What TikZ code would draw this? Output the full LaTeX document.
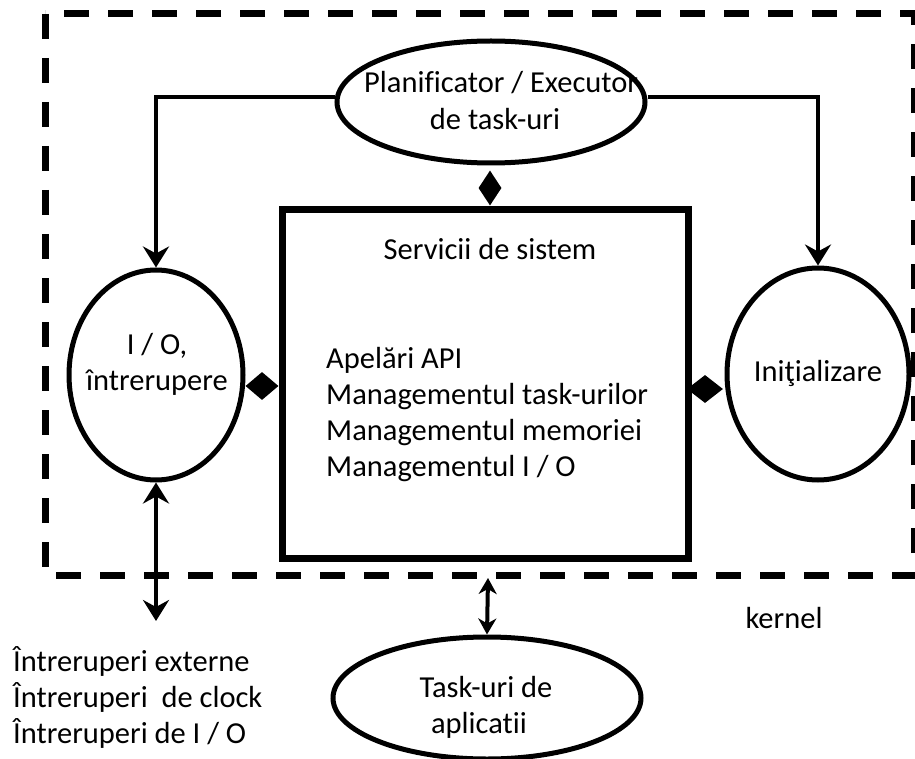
\documentclass[tikz,border=0pt]{standalone}
\usepackage{fontspec}
\setmainfont{Carlito}[Ligatures=NoCommon]
\usetikzlibrary{shapes.geometric,arrows.meta}
\begin{document}
\begin{tikzpicture}[x=1pt,y=-1pt,
  txt/.style={font=\fontsize{30.5}{36}\selectfont, inner sep=0pt},
  ell/.style={draw, ellipse, line width=5pt, inner sep=0pt},
  dia/.style={diamond, fill=black, inner sep=0pt},
  arr/.style={line width=4.5pt, -{Stealth[length=21pt,width=26pt,inset=7pt]}},
  dblarr/.style={line width=4.5pt, {Stealth[length=21pt,width=26pt,inset=7pt]}-{Stealth[length=21pt,width=26pt,inset=7pt]}},
  smalldbl/.style={line width=4pt, {Stealth[length=16pt,width=18pt,inset=5pt]}-{Stealth[length=16pt,width=18pt,inset=5pt]}},
  kernelbox/.style={line width=7pt, dash pattern=on 25pt off 19pt}
]
\useasboundingbox (0,0) rectangle (915,759);

% kernel boundary
\draw[kernelbox] (45,14) rectangle (914,575);

% texts
\node[txt, anchor=base west] (plantxt) at (364,93) {Planificator / Executor};
\node[txt, anchor=base] (plantxtb) at (495,130) {de task-uri};

% nodes
\node[ell, minimum width=308pt, minimum height=122pt] (plan) at (491,102) {};
\node[ell, minimum width=174pt, minimum height=210pt] (io) at (156,375) {};
\node[ell, minimum width=182pt, minimum height=212pt] (init) at (818,374) {};
\node[ell, minimum width=308pt, minimum height=122pt] (app) at (487,698) {};
\node[draw, line width=7pt, minimum width=406pt, minimum height=349pt, inner sep=0pt] (sys) at (485,384) {};

% diamonds
\node[dia, minimum width=23pt, minimum height=35pt] (dtop) at (490,188) {};
\node[dia, minimum width=33pt, minimum height=28pt] (dleft) at (262,386) {};
\node[dia, minimum width=36pt, minimum height=28pt] (dright) at (705,389) {};

% system services text
\node[txt, anchor=base] (systitle) at (490,260) {Servicii de sistem};
\node[txt, anchor=base west] (s1) at (326,368) {Apelări API};
\node[txt, anchor=base west] (s2) at (326,404) {Managementul task-urilor};
\node[txt, anchor=base west] (s3) at (326,440) {Managementul memoriei};
\node[txt, anchor=base west] (s4) at (326,476) {Managementul I / O};

% io text
\node[txt, anchor=base] (iot1) at (157,354) {I / O,};
\node[txt, anchor=base] (iot2) at (157,390) {întrerupere};

% init text
\node[txt, anchor=base] (initt) at (818,381) {Iniţializare};

% app text
\node[txt, anchor=base] (appt1) at (486,697) {Task-uri de};
\node[txt, anchor=base] (appt2) at (479,733) {aplicatii};

% kernel label
\node[txt, anchor=base] (kern) at (784,628) {kernel};

% external interrupts
\node[txt, anchor=base west] (e1) at (13,671) {Întreruperi externe};
\node[txt, anchor=base west] (e2) at (13,707) {Întreruperi\ \ de clock};
\node[txt, anchor=base west] (e3) at (13,743) {Întreruperi de I / O};

% connectors
\coordinate (ioend) at (156,621);
\coordinate (kb) at (488,578);
\draw[arr] ([yshift=5pt]plan.west) -| (io.north);
\draw[arr] ([yshift=5pt]plan.east) -| (init.north);
\draw[dblarr] (io.south) -- (ioend);
\draw[smalldbl] (kb) -- (app.north);
\end{tikzpicture}
\end{document}
